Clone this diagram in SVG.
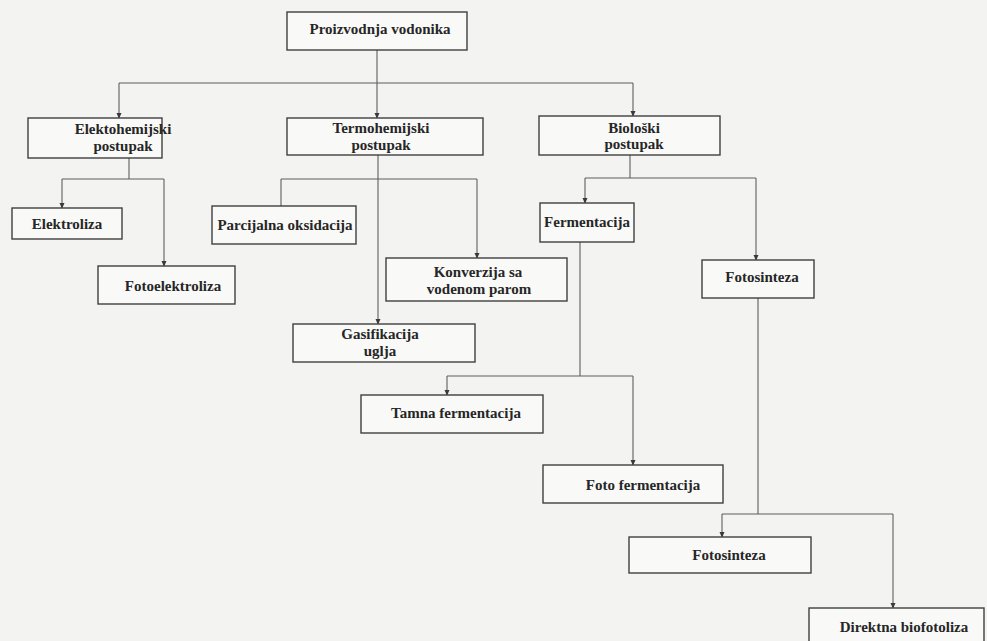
<svg xmlns="http://www.w3.org/2000/svg" width="987" height="641" viewBox="0 0 987 641">
<defs>
<marker id="arr" viewBox="0 0 8 8" refX="7" refY="4" markerWidth="6" markerHeight="6" orient="auto" markerUnits="userSpaceOnUse">
<path d="M0,0.5 L8,4 L0,7.5 z" fill="#3a3a3a"/>
</marker>
<style>
.box{fill:#f9f9f8;stroke:#3f3f3f;stroke-width:1.4}
.t{font-family:"Liberation Serif","Times New Roman",serif;font-weight:bold;font-size:15px;fill:#262626;text-anchor:middle}
.c{fill:none;stroke:#5e5e5e;stroke-width:1.1}
.ca{fill:none;stroke:#5e5e5e;stroke-width:1.1;marker-end:url(#arr)}
</style>
</defs>
<rect x="0" y="0" width="987" height="641" fill="#f3f3f1"/>
<g id="connectors">
<path class="ca" d="M377,50 V118"/>
<path class="c" d="M119,83 H633"/>
<path class="ca" d="M119,83 V118"/>
<path class="ca" d="M633,83 V116"/>
<path class="c" d="M129,158 V179 M62,179 H164"/>
<path class="ca" d="M62,179 V208"/>
<path class="ca" d="M164,179 V266"/>
<path class="ca" d="M378,155 V324"/>
<path class="c" d="M281,179 H477 M281,179 V206"/>
<path class="ca" d="M477,179 V258"/>
<path class="c" d="M630,155 V178 M585,178 H756"/>
<path class="ca" d="M585,178 V203"/>
<path class="ca" d="M756,178 V260"/>
<path class="c" d="M580,242 V376 M447,376 H633"/>
<path class="ca" d="M447,376 V395"/>
<path class="ca" d="M633,376 V465"/>
<path class="c" d="M758,298 V514 M722,514 H893"/>
<path class="ca" d="M722,514 V537"/>
<path class="ca" d="M893,514 V608"/>
</g>
<g id="n-proizvodnja"><rect class="box" x="287" y="12" width="180" height="38"/><text class="t" x="380" y="34">Proizvodnja vodonika</text></g>
<g id="n-elektohemijski"><rect class="box" x="28" y="118" width="134" height="40"/><text class="t" x="123" y="134">Elektohemijski</text><text class="t" x="123" y="151">postupak</text></g>
<g id="n-termohemijski"><rect class="box" x="287" y="118" width="196" height="37"/><text class="t" x="381" y="133">Termohemijski</text><text class="t" x="381" y="150">postupak</text></g>
<g id="n-bioloski"><rect class="box" x="539" y="116" width="181" height="39"/><text class="t" x="634" y="133">Biološki</text><text class="t" x="634" y="149">postupak</text></g>
<g id="n-elektroliza"><rect class="box" x="12" y="208" width="110" height="31"/><text class="t" x="67" y="229">Elektroliza</text></g>
<g id="n-fotoelektroliza"><rect class="box" x="98" y="266" width="137" height="38"/><text class="t" x="173" y="291">Fotoelektroliza</text></g>
<g id="n-parcijalna"><rect class="box" x="212" y="206" width="144" height="38"/><text class="t" x="285" y="230">Parcijalna oksidacija</text></g>
<g id="n-konverzija"><rect class="box" x="386" y="258" width="181" height="43"/><text class="t" x="478" y="277">Konverzija sa</text><text class="t" x="479" y="294">vodenom parom</text></g>
<g id="n-gasifikacija"><rect class="box" x="293" y="324" width="182" height="38"/><text class="t" x="380" y="339">Gasifikacija</text><text class="t" x="380" y="356">uglja</text></g>
<g id="n-fermentacija"><rect class="box" x="540" y="203" width="94" height="39"/><text class="t" x="587" y="227">Fermentacija</text></g>
<g id="n-fotosinteza1"><rect class="box" x="702" y="260" width="112" height="38"/><text class="t" x="762" y="282">Fotosinteza</text></g>
<g id="n-tamna"><rect class="box" x="361" y="395" width="182" height="38"/><text class="t" x="456" y="418">Tamna fermentacija</text></g>
<g id="n-fotofermentacija"><rect class="box" x="543" y="465" width="180" height="38"/><text class="t" x="643" y="490">Foto fermentacija</text></g>
<g id="n-fotosinteza2"><rect class="box" x="629" y="537" width="182" height="36"/><text class="t" x="729" y="560">Fotosinteza</text></g>
<g id="n-direktna"><rect class="box" x="809" y="608" width="175" height="45"/><text class="t" x="904" y="632">Direktna biofotoliza</text></g>
</svg>
